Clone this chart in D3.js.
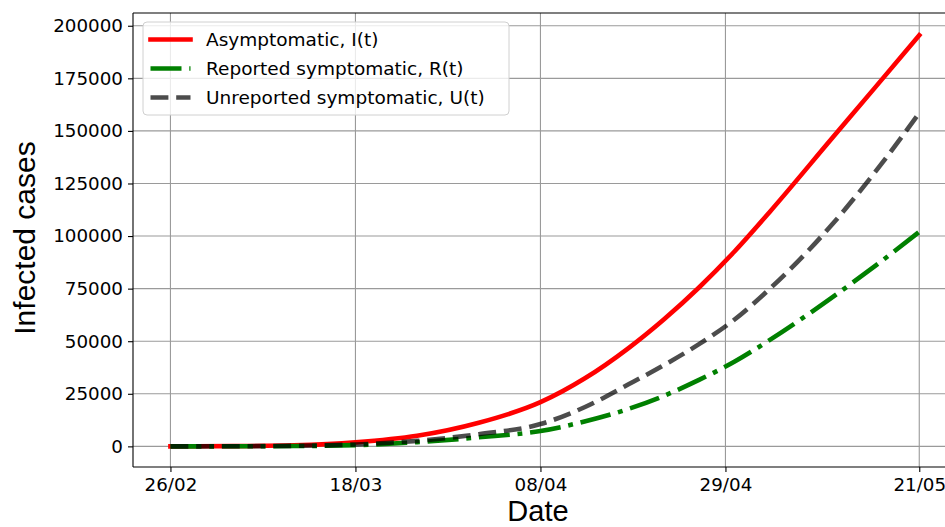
<!DOCTYPE html>
<html><head><meta charset="utf-8">
<script src="https://cdn.jsdelivr.net/npm/d3@7"></script>
<style>body{margin:0;background:#fff}svg{display:block}</style>
</head><body>
<script>
// Day offsets from 26/02/2020
const days = [0,7,14,21,28,35,42,47,52,56,60,64,68,75,80,85];
const asymptomatic = [0,100,500,1900,5000,11200,21000,32250,46750,60350,75550,92550,111350,146000,170700,195500];
const reported = [0,30,150,600,2000,4300,7300,11800,17800,24000,31600,40200,50500,70500,85800,102000];
const unreported = [0,50,250,900,2600,5800,10600,18600,29500,38600,48600,60200,74800,105000,130500,158500];
const xTickDays = [0,21,42,63,85];
const xTickLabels = ["26/02","18/03","08/04","29/04","21/05"];
const yTicks = [0,25000,50000,75000,100000,125000,150000,175000,200000];
const seriesNames = ["Asymptomatic, I(t)","Reported symptomatic, R(t)","Unreported symptomatic, U(t)"];

const W=945,H=527;
const svg=d3.select("body").append("svg").attr("width",W).attr("height",H);
const L=133, T=13, B=467;
const x=d3.scaleLinear().domain([-4.25,89.25]).range([L,L+823.7]);
const y=d3.scaleLinear().domain([-9812,206062]).range([B,T]);

svg.append("defs").append("clipPath").attr("id","c").append("rect")
  .attr("x",L).attr("y",T).attr("width",W-L).attr("height",B-T);

const g=svg.append("g");
g.selectAll(".gx").data(xTickDays).join("line")
  .attr("x1",d=>x(d)).attr("x2",d=>x(d)).attr("y1",T).attr("y2",B)
  .attr("stroke","#9a9a9a").attr("stroke-width",1.1);
g.selectAll(".gy").data(yTicks).join("line")
  .attr("x1",L).attr("x2",W).attr("y1",d=>y(d)).attr("y2",d=>y(d))
  .attr("stroke","#9a9a9a").attr("stroke-width",1.1);

const LW=4.6;
const DASH="17.9,7.8", DASHDOT="31,7.8,4.85,7.8";
const line=(vals)=>d3.line().x((d,i)=>x(days[i])).y(d=>y(d)).curve(d3.curveMonotoneX)(vals);
const lines=svg.append("g").attr("clip-path","url(#c)");
lines.append("path").attr("d",line(asymptomatic)).attr("fill","none").attr("stroke","#ff0000").attr("stroke-width",LW).attr("stroke-linecap","square");
lines.append("path").attr("d",line(reported)).attr("fill","none").attr("stroke","#008000").attr("stroke-width",LW).attr("stroke-dasharray",DASHDOT);
lines.append("path").attr("d",line(unreported)).attr("fill","none").attr("stroke","#000").attr("stroke-opacity",0.7).attr("stroke-width",LW).attr("stroke-dasharray",DASH);

svg.append("line").attr("x1",L).attr("x2",L).attr("y1",T).attr("y2",B).attr("stroke","#000").attr("stroke-width",1.1);
svg.append("line").attr("x1",L).attr("x2",W).attr("y1",B).attr("y2",B).attr("stroke","#000").attr("stroke-width",1.1);
svg.append("line").attr("x1",L).attr("x2",W).attr("y1",T).attr("y2",T).attr("stroke","#000").attr("stroke-width",1.1);

const xa=d3.axisBottom(x).tickValues(xTickDays).tickFormat((d,i)=>xTickLabels[i]).tickSize(5).tickPadding(6);
const ya=d3.axisLeft(y).tickValues(yTicks).tickFormat(d=>String(d)).tickSize(5).tickPadding(5);
const gx=svg.append("g").attr("transform",`translate(0,${B})`).call(xa);
const gy=svg.append("g").attr("transform",`translate(${L},0)`).call(ya);
[gx,gy].forEach(a=>{a.select(".domain").remove();
  a.selectAll("text").attr("font-family","DejaVu Sans").attr("font-size",18.3).attr("fill","#000");
  a.selectAll("line").attr("stroke","#000").attr("stroke-width",1.1);});

svg.append("text").attr("x",538).attr("y",521).attr("text-anchor","middle")
  .attr("font-family","Liberation Sans").attr("font-size",29).text("Date");
svg.append("text").attr("transform","translate(35,238) rotate(-90)").attr("text-anchor","middle")
  .attr("font-family","Liberation Sans").attr("font-size",30).text("Infected cases");

const lg=svg.append("g");
lg.append("rect").attr("x",143).attr("y",22).attr("width",366).attr("height",93).attr("rx",4)
  .attr("fill","#fff").attr("fill-opacity",0.8).attr("stroke","#d0d0d0");
const styles=[{c:"#ff0000",o:1,d:null,cap:"square"},{c:"#008000",o:1,d:DASHDOT,cap:"butt"},{c:"#000",o:0.7,d:DASH,cap:"butt"}];
seriesNames.forEach((n,i)=>{
  const yy=39.5+i*29;
  lg.append("line").attr("x1",150.5).attr("x2",190.5).attr("y1",yy).attr("y2",yy)
    .attr("stroke",styles[i].c).attr("stroke-opacity",styles[i].o).attr("stroke-width",LW)
    .attr("stroke-linecap",styles[i].cap).attr("stroke-dasharray",styles[i].d);
  lg.append("text").attr("x",206).attr("y",yy+6.5).attr("font-family","DejaVu Sans").attr("font-size",18.5).text(n);
});
</script>
</body></html>
